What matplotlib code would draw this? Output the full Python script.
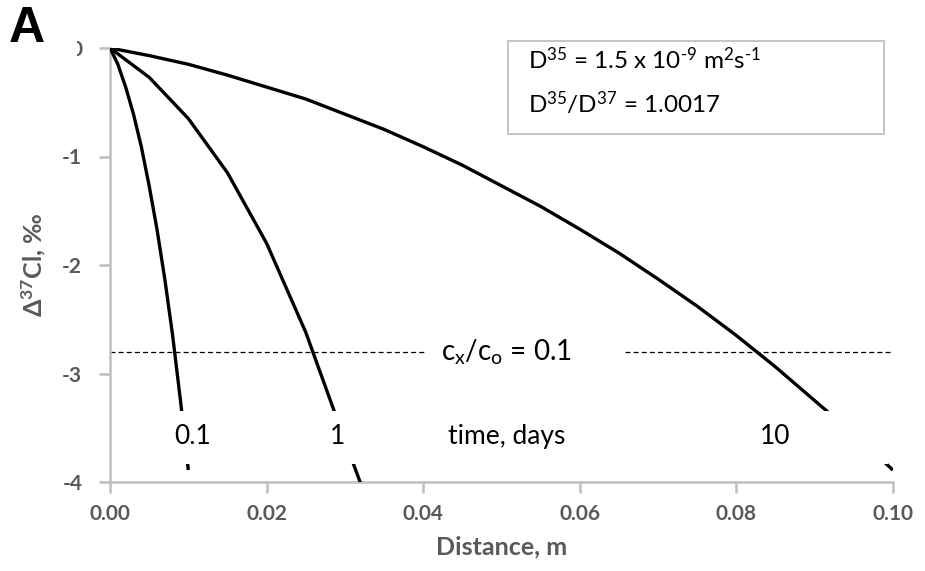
import matplotlib
matplotlib.use("Agg")
import matplotlib.pyplot as plt
from matplotlib.patches import Rectangle

plt.rcParams['font.family'] = ['Lato', 'DejaVu Sans']
plt.rcParams['mathtext.fontset'] = 'custom'
plt.rcParams['mathtext.rm'] = 'Lato'
plt.rcParams['mathtext.it'] = 'Lato:italic'
plt.rcParams['mathtext.bf'] = 'Lato:bold'

# ---- data ----
x_01d = [0.000, 0.001, 0.002, 0.003, 0.004, 0.005, 0.006, 0.007, 0.008, 0.009, 0.010]
y_01d = [0.00, -0.15, -0.36, -0.61, -0.91, -1.27, -1.67, -2.13, -2.65, -3.25, -3.89]

x_1d = [0.000, 0.005, 0.010, 0.015, 0.020, 0.025, 0.030, 0.035]
y_1d = [0.00, -0.27, -0.65, -1.15, -1.80, -2.62, -3.62, -4.60]

x_10d = [0.000, 0.005, 0.010, 0.015, 0.020, 0.025, 0.030, 0.035, 0.040, 0.045,
         0.050, 0.055, 0.060, 0.065, 0.070, 0.075, 0.080, 0.085, 0.090, 0.095, 0.100]
y_10d = [0.00, -0.07, -0.15, -0.25, -0.36, -0.47, -0.61, -0.75, -0.91, -1.08,
         -1.27, -1.46, -1.67, -1.89, -2.13, -2.38, -2.65, -2.94, -3.25, -3.56, -3.89]

ref_level = -2.80          # c_x/c_o = 0.1
ref_segments = [(0.0, 0.0402), (0.0658, 0.100)]

x_ticks = [0.00, 0.02, 0.04, 0.06, 0.08, 0.10]
x_ticklabels = ["0.00", "0.02", "0.04", "0.06", "0.08", "0.10"]
y_ticks = [-4, -3, -2, -1, 0]
y_ticklabels = ["-4", "-3", "-2", "-1", "0"]

curve_labels = ["0.1", "1", "time, days", "10"]
curve_label_x = [0.0105, 0.0291, 0.0506, 0.0849]
curve_label_y = -3.58

# ---- figure ----
W, H = 925, 571
fig = plt.figure(figsize=(W/100, H/100), dpi=100)
ax = fig.add_axes([110/W, 1-482/H, (893-110)/W, (482-48)/H])

gray = '#BFBFBF'
tick_col = '#595959'

for xs, ys in [(x_01d, y_01d), (x_1d, y_1d), (x_10d, y_10d)]:
    ax.plot(xs, ys, color='black', lw=2.4, solid_capstyle='butt', zorder=3)

for x0, x1 in ref_segments:
    ax.plot([x0, x1], [ref_level, ref_level], color='black', lw=0.9,
            ls=(0, (4, 2.5)), zorder=2)

ax.text(0.0506, ref_level, r"c$_\mathregular{x}$/c$_\mathregular{o}$ = 0.1",
        fontsize=20, ha='center', va='center', color='black', zorder=5)

# white strip that carries the curve labels
ax.axhspan(-3.835, -3.345, xmin=0.006, xmax=0.994, color='white', zorder=4, lw=0)
for lab, lx in zip(curve_labels, curve_label_x):
    ax.text(lx, curve_label_y, lab, fontsize=19, ha='center', va='center',
            color='black', zorder=5)

ax.set_xlim(0, 0.1)
ax.set_ylim(-4, 0)
ax.set_xticks(x_ticks)
ax.set_xticklabels(x_ticklabels)
ax.set_yticks(y_ticks)
ax.set_yticklabels(y_ticklabels)

for s in ['top', 'right']:
    ax.spines[s].set_visible(False)
for s in ['left', 'bottom']:
    ax.spines[s].set_color(gray)
    ax.spines[s].set_linewidth(1.8)
ax.tick_params(axis='both', direction='out', length=8, width=1.8, color=gray,
               labelsize=15, labelcolor=tick_col)
ax.tick_params(axis='y', pad=12)
ax.tick_params(axis='x', pad=8)
for t in ax.get_xticklabels() + ax.get_yticklabels():
    t.set_fontweight('bold')

ax.set_xlabel("Distance, m", fontsize=18, fontweight='bold', color=tick_col, labelpad=8)
ax.set_ylabel(r"Δ$^{\mathbf{37}}$Cl, ‰", fontsize=18, fontweight='bold',
              color=tick_col, labelpad=10)

# parameter box
fig.patches.append(Rectangle((508/W, 1-134/H), (884-508)/W, (134-41)/H,
                             transform=fig.transFigure, facecolor='white',
                             edgecolor=gray, lw=1.3, zorder=5))
fig.text(528/W, 1-60/H, r"D$^{35}$ = 1.5 x 10$^{\text{-9}}$ m$^{2}$s$^{\text{-1}}$",
         fontsize=17.5, ha='left', va='center', zorder=6)
fig.text(528/W, 1-103/H, r"D$^{35}$/D$^{37}$ = 1.0017",
         fontsize=17.5, ha='left', va='center', zorder=6)

# panel letter (covers part of the top tick label as in the original)
fig.patches.append(Rectangle((0, 1-62/H), 77/W, 62/H,
                             transform=fig.transFigure, facecolor='white',
                             edgecolor='none', zorder=10))
fig.text(9/W, 1-29/H, "A", fontsize=36, fontweight='bold',
         family=['Liberation Sans', 'DejaVu Sans'], ha='left', va='center', zorder=11)

fig.savefig("out.png", dpi=100)
